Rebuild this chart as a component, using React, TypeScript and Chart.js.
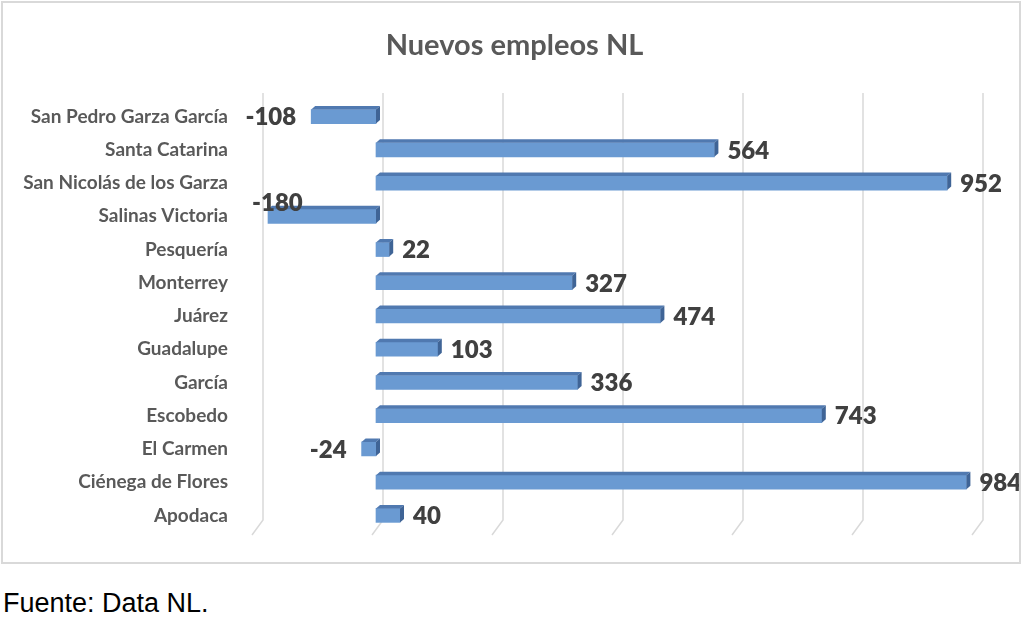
import { useEffect, useRef } from "react";
import { Chart, registerables } from "chart.js";

Chart.register(...registerables);

const chartTitle = "Nuevos empleos NL";
const sourceNote = "Fuente: Data NL.";
const categories = [
  "San Pedro Garza García",
  "Santa Catarina",
  "San Nicolás de los Garza",
  "Salinas Victoria",
  "Pesquería",
  "Monterrey",
  "Juárez",
  "Guadalupe",
  "García",
  "Escobedo",
  "El Carmen",
  "Ciénega de Flores",
  "Apodaca",
];
const values = [-108, 564, 952, -180, 22, 327, 474, 103, 336, 743, -24, 984, 40];
const axisMin = -200;
const axisMax = 1000;
const axisStep = 200;

const DX = 4;
const DY = 3.5;

const bar3d = {
  id: "bar3d",
  beforeDatasetsDraw(chart: any) {
    const { ctx, chartArea, scales } = chart;
    const xs = scales.x;
    ctx.save();
    ctx.strokeStyle = "#d9d9d9";
    ctx.lineWidth = 1.5;
    xs.ticks.forEach((t: any) => {
      const px = xs.getPixelForValue(t.value);
      ctx.beginPath();
      ctx.moveTo(px + 7, chartArea.top - 7);
      ctx.lineTo(px + 7, chartArea.bottom - 12);
      ctx.lineTo(px - 4, chartArea.bottom + 3);
      ctx.stroke();
    });
    ctx.restore();
  },
  afterDatasetsDraw(chart: any) {
    const { ctx, chartArea } = chart;
    const meta = chart.getDatasetMeta(0);
    const data = chart.data.datasets[0].data as number[];
    ctx.save();
    meta.data.forEach((el: any, i: number) => {
      const { x, y, base, height } = el.getProps(["x", "y", "base", "height"], true);
      const left = Math.min(x, base);
      const right = Math.max(x, base);
      const top = y - height / 2;
      const bottom = y + height / 2;
      // top face
      ctx.fillStyle = "#5079b0";
      ctx.beginPath();
      ctx.moveTo(left, top);
      ctx.lineTo(right, top);
      ctx.lineTo(right + DX, top - DY);
      ctx.lineTo(left + DX, top - DY);
      ctx.closePath();
      ctx.fill();
      // right side face
      ctx.fillStyle = "#3f6496";
      ctx.beginPath();
      ctx.moveTo(right, top);
      ctx.lineTo(right + DX, top - DY);
      ctx.lineTo(right + DX, bottom - DY);
      ctx.lineTo(right, bottom);
      ctx.closePath();
      ctx.fill();

      // label
      const v = data[i];
      const txt = String(v);
      ctx.font = "800 24px Lato";
      ctx.fillStyle = "#404040";
      ctx.textBaseline = "middle";
      if (v >= 0) {
        ctx.textAlign = "left";
        ctx.fillText(txt, right + 13, y + 1);
      } else {
        const w = ctx.measureText(txt).width;
        let rx = left - 15;
        let ly = y + 1;
        if (rx - w < chartArea.left - 15) {
          rx = chartArea.left - 4 + w;
          ly = y - 13;
        }
        ctx.textAlign = "right";
        ctx.fillText(txt, rx, ly);
      }
    });
    ctx.restore();
  },
};

export default function App() {
  const ref = useRef<HTMLCanvasElement>(null);
  useEffect(() => {
    if (!ref.current) return;
    const chart = new Chart(ref.current, {
      type: "bar",
      data: {
        labels: categories,
        datasets: [
          {
            data: values,
            backgroundColor: "#6a9ad2",
            borderWidth: 0,
            barThickness: 14,
          },
        ],
      },
      options: {
        indexAxis: "y",
        animation: false,
        responsive: false,
        devicePixelRatio: 1,
        layout: { padding: { left: 0, right: 43, top: 97, bottom: 30 } },
        plugins: {
          legend: { display: false },
          tooltip: { enabled: false },
          title: { display: false },
        },
        scales: {
          x: {
            display: false,
            min: axisMin,
            max: axisMax,
            ticks: { stepSize: axisStep },
          },
          y: {
            grid: { display: false, drawTicks: false },
            border: { display: false },
            ticks: {
              color: "#595959",
              font: { family: "Lato", size: 19, weight: "bold" },
              padding: 28,
            },
            afterFit: (scale: any) => {
              scale.width = 253;
              scale.paddingTop = 0;
              scale.paddingBottom = 0;
            },
          },
        },
      },
      plugins: [bar3d],
    });
    return () => chart.destroy();
  }, []);

  return (
    <div
      style={{
        position: "fixed",
        left: 0,
        top: 0,
        width: 1024,
        height: 625,
        background: "#fff",
      }}
    >
      <div
        style={{
          position: "absolute",
          left: 1,
          top: 1,
          width: 1020,
          height: 563,
          border: "2px solid #d9d9d9",
          boxSizing: "border-box",
        }}
      >
        <canvas ref={ref} width={1016} height={559} style={{ display: "block" }} />
      </div>
      <div
        style={{
          position: "absolute",
          left: 0,
          top: 26,
          width: 1029,
          textAlign: "center",
          fontFamily: "Lato, sans-serif",
          fontWeight: "bold",
          fontSize: 29,
          lineHeight: "35px",
          color: "#595959",
          whiteSpace: "nowrap",
        }}
      >
        {chartTitle}
      </div>
      <div
        style={{
          position: "absolute",
          left: 3,
          top: 588,
          fontFamily: "'Liberation Sans', Arial, sans-serif",
          fontSize: 27,
          color: "#000",
          whiteSpace: "nowrap",
        }}
      >
        {sourceNote}
      </div>
    </div>
  );
}
